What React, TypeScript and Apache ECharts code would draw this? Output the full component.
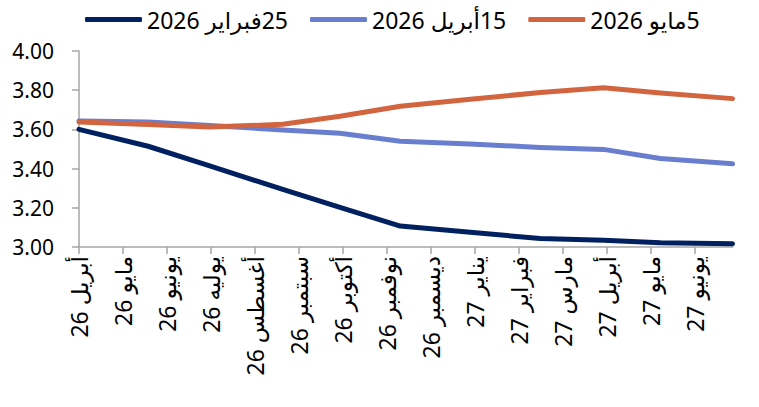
import React, { useEffect, useRef } from "react";
import * as echarts from "echarts";

// Month tick labels (x axis, one per month start)
const monthLabels = [
  "أبريل 26",
  "مايو 26",
  "يونيو 26",
  "يوليه 26",
  "أغسطس 26",
  "سبتمبر 26",
  "أكتوبر 26",
  "نوفمبر 26",
  "ديسمبر 26",
  "يناير 27",
  "فبراير 27",
  "مارس 27",
  "أبريل 27",
  "مايو 27",
  "يونيو 27",
];

// Position of each point, in months after the start of April 2026
const pointMonths = [0, 1.57, 2.97, 4.63, 5.93, 7.3, 8.89, 10.48, 11.92, 13.21, 14.85];

// Series names (RLM so the mixed Arabic/number text keeps its right-to-left order)
const seriesNames = ["\u200F25فبراير 2026", "\u200F15أبريل 2026", "\u200F5مايو 2026"];

const feb25 = [3.6, 3.514, 3.414, 3.294, 3.202, 3.107, 3.075, 3.043, 3.034, 3.022, 3.017];
const apr15 = [3.643, 3.638, 3.62, 3.597, 3.58, 3.54, 3.526, 3.508, 3.498, 3.452, 3.425];
const may5 = [3.638, 3.625, 3.612, 3.626, 3.667, 3.718, 3.754, 3.788, 3.813, 3.786, 3.757];

const seriesValues = [feb25, apr15, may5];
const seriesColors = ["#002060", "#6A7ED0", "#D2653F"];

const yMin = 3;
const yMax = 4;
const yStep = 0.2;
const xEnd = 14.86;

const FONT = "'Noto Sans', 'DejaVu Sans', sans-serif";

export default function App() {
  const ref = useRef<HTMLDivElement>(null);

  useEffect(() => {
    if (!ref.current) return;
    const chart = echarts.init(ref.current, null, { renderer: "svg" });

    const series = seriesValues.map((vals, i) => ({
      name: seriesNames[i],
      type: "line",
      data: vals.map((v, k) => [pointMonths[k], v]),
      showSymbol: false,
      symbol: "none",
      smooth: false,
      lineStyle: { color: seriesColors[i], width: 5, cap: "round", join: "round" },
      itemStyle: { color: seriesColors[i] },
      z: 2 + i,
    }));

    chart.setOption({
      animation: false,
      backgroundColor: "#ffffff",
      textStyle: { fontFamily: FONT },
      legend: {
        top: 8,
        left: 85,
        padding: 0,
        itemWidth: 57,
        itemHeight: 5,
        itemGap: 22,
        icon: "roundRect",
        data: seriesNames,
        textStyle: { fontSize: 23, color: "#000", fontFamily: FONT },
      },
      grid: {
        left: 79,
        right: 26,
        top: 51,
        bottom: 160,
        containLabel: false,
        outerBoundsMode: "none",
      },
      xAxis: {
        type: "value",
        min: 0,
        max: xEnd,
        interval: 1,
        splitLine: { show: false },
        axisLine: { show: true, lineStyle: { color: "#A6A6A6", width: 1.5 } },
        axisTick: { show: true, length: 7, lineStyle: { color: "#A6A6A6", width: 1.5 } },
        axisLabel: {
          rotate: 90,
          margin: 9,
          fontSize: 23,
          color: "#000",
          fontFamily: FONT,
          showMaxLabel: false,
          formatter: (v: number) =>
            Math.abs(v - Math.round(v)) < 1e-6 ? monthLabels[Math.round(v)] ?? "" : "",
        },
      },
      yAxis: {
        type: "value",
        min: yMin,
        max: yMax,
        interval: yStep,
        splitLine: { show: false },
        axisLine: { show: true, lineStyle: { color: "#A6A6A6", width: 1.5 } },
        axisTick: { show: true, length: 7, lineStyle: { color: "#A6A6A6", width: 1.5 } },
        axisLabel: {
          margin: 25,
          fontSize: 21,
          color: "#000",
          fontFamily: FONT,
          formatter: (v: number) => v.toFixed(2),
        },
      },
      series,
    });

    return () => chart.dispose();
  }, []);

  return (
    <div
      ref={ref}
      style={{ position: "fixed", left: 0, top: 0, width: 759, height: 407, background: "#fff" }}
    />
  );
}
